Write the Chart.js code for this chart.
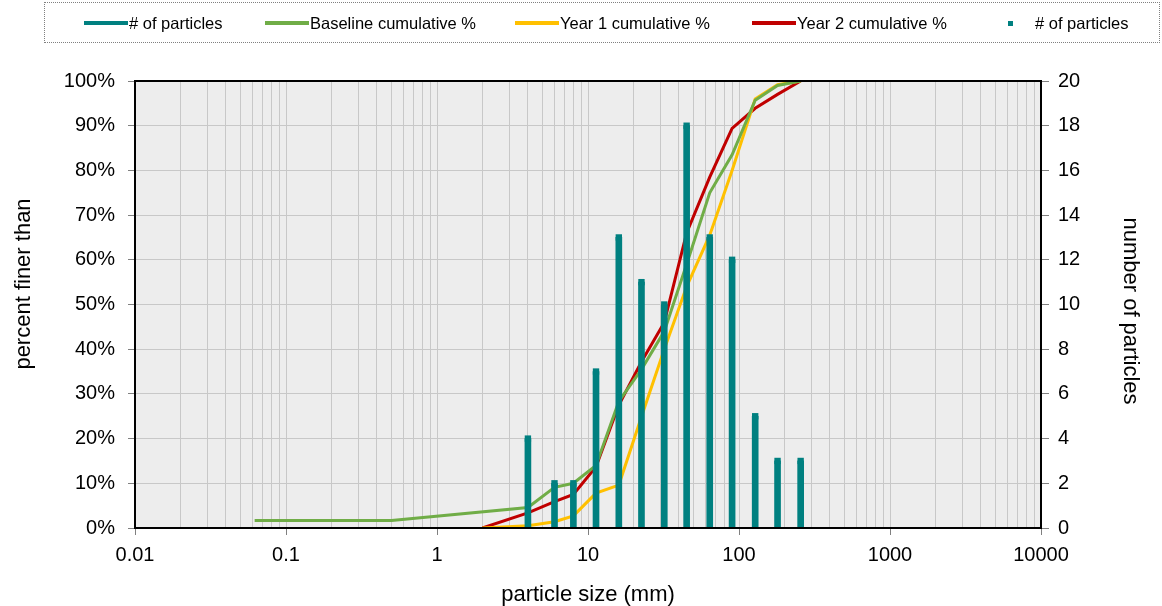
<!DOCTYPE html>
<html lang="en">
<head>
  <meta charset="UTF-8">
  <title>Particle size distribution</title>
  <script src="https://cdn.jsdelivr.net/npm/chart.js"></script>
  <style>
    body { margin: 0; background: #fff; font-family: "Liberation Sans", Arial, sans-serif; }
    #wrap { position: relative; width: 1162px; height: 606px; }
    #chart { position: absolute; left: 0; top: 0; }
    #legendBox { position: absolute; left: 44px; top: 2px; width: 1116px; height: 41px; border: 1px dotted #808080; box-sizing: border-box; }
    .item { position: absolute; top: 13px; height: 20px; display: flex; align-items: center; font-size: 16.5px; color: #000; white-space: nowrap; }
    .swatch { display: inline-block; width: 44px; height: 4px; margin-right: 1px; }
    .dot { display: inline-block; width: 5px; height: 5px; margin: 0 22px 0 0; }
  </style>
</head>
<body>
<div id="wrap">
  <canvas id="chart" width="1162" height="606"></canvas>
  <div id="legendBox"></div>
</div>

<script>
  // bars: number of particles per size class (right axis)
  const barSizes = [4, 6, 8, 11.3, 16, 22.6, 32, 45, 64, 90, 128, 180, 256];
  const barCounts = [4, 2, 2, 7, 13, 11, 10, 18, 13, 12, 5, 3, 3];

  // cumulative curves (left axis, %)
  const baselineSizes = [0.062, 0.5, 4, 6, 8, 11.3, 16, 22.6, 32, 45, 64, 90, 128, 180, 256];
  const baselinePct = [1.7, 1.7, 4.6, 9.1, 10, 14, 28.3, 35.5, 44, 59, 75, 83.5, 95.7, 99, 100];

  const yearSizes = [2, 4, 6, 8, 11.3, 16, 22.6, 32, 45, 64, 90, 128, 180, 256];
  const year1Pct = [0, 0.5, 1.4, 2.7, 7.8, 9.6, 24.9, 40, 54, 65.5, 80, 96, 99.2, 100];
  const year2Pct = [0, 3.4, 5.9, 7.5, 13.7, 27.5, 37.2, 46, 66, 78.5, 89.4, 93.9, 97, 100];

  const decadeLabels = ['0.01', '0.1', '1', '10', '100', '1000', '10000'];

  const seriesNames = ['# of particles', 'Baseline cumulative %', 'Year 1 cumulative %', 'Year 2 cumulative %', '# of particles'];
  const seriesColors = ['#008080', '#70ad47', '#ffc000', '#c00000', '#008080'];

  const pts = (xs, ys) => xs.map((x, i) => ({ x, y: ys[i] }));

  // log tick positions 1..9 per decade
  const xTicks = [];
  for (let e = -2; e <= 3; e++) {
    for (let m = 1; m <= 9; m++) xTicks.push(+(m * Math.pow(10, e)).toPrecision(3));
  }
  xTicks.push(10000);
  const isDecade = v => Math.abs(Math.log10(v) - Math.round(Math.log10(v))) < 1e-9;

  // legend (html)
  const legendLeft = [84, 265, 515, 752, 1008];
  seriesNames.forEach((name, i) => {
    const d = document.createElement('div');
    d.className = 'item';
    d.style.left = legendLeft[i] + 'px';
    const sw = document.createElement('span');
    sw.className = i === 4 ? 'dot' : 'swatch';
    sw.style.background = seriesColors[i];
    d.appendChild(sw);
    d.appendChild(document.createTextNode(name));
    document.getElementById('wrap').appendChild(d);
  });

  const FONT = '"Liberation Sans", Arial, sans-serif';

  const plotBg = {
    id: 'plotBg',
    beforeDraw(chart) {
      const a = chart.chartArea, ctx = chart.ctx;
      ctx.save();
      ctx.fillStyle = '#ededed';
      ctx.fillRect(a.left, a.top, a.right - a.left, a.bottom - a.top);
      ctx.restore();
    },
    afterDraw(chart) {
      const a = chart.chartArea, ctx = chart.ctx;
      ctx.save();
      ctx.strokeStyle = '#000';
      ctx.lineWidth = 2;
      ctx.strokeRect(a.left, a.top, a.right - a.left, a.bottom - a.top);
      // vertical axis titles (excel puts them a bit off-centre)
      ctx.fillStyle = '#000';
      ctx.font = '22px ' + FONT;
      ctx.textAlign = 'center';
      ctx.textBaseline = 'middle';
      ctx.translate(24, 284);
      ctx.rotate(-Math.PI / 2);
      ctx.fillText('percent finer than', 0, 0);
      ctx.restore();
      ctx.save();
      ctx.fillStyle = '#000';
      ctx.font = '22px ' + FONT;
      ctx.textAlign = 'center';
      ctx.textBaseline = 'middle';
      ctx.translate(1130, 311);
      ctx.rotate(Math.PI / 2);
      ctx.fillText('number of particles', 0, 0);
      ctx.restore();
    }
  };

  const font = { family: FONT, size: 20 };
  const titleFont = { family: FONT, size: 22, lineHeight: 1 };

  new Chart(document.getElementById('chart'), {
    type: 'line',
    data: {
      datasets: [
        {
          type: 'bar', label: seriesNames[0], data: pts(barSizes, barCounts), yAxisID: 'y1',
          backgroundColor: seriesColors[0], barThickness: 6, borderWidth: 0, order: 0
        },
        {
          label: seriesNames[4], data: pts(barSizes, barCounts), yAxisID: 'y1', showLine: false,
          pointStyle: 'rect', pointRadius: 4.5, pointBackgroundColor: seriesColors[4],
          pointBorderWidth: 0, order: 0
        },
        {
          label: seriesNames[1], data: pts(baselineSizes, baselinePct), yAxisID: 'y',
          borderColor: seriesColors[1], borderWidth: 3, pointRadius: 0, tension: 0, order: 1
        },
        {
          label: seriesNames[2], data: pts(yearSizes, year1Pct), yAxisID: 'y',
          borderColor: seriesColors[2], borderWidth: 3, pointRadius: 0, tension: 0, order: 1
        },
        {
          label: seriesNames[3], data: pts(yearSizes, year2Pct), yAxisID: 'y',
          borderColor: seriesColors[3], borderWidth: 3, pointRadius: 0, tension: 0, order: 1
        }
      ]
    },
    options: {
      responsive: false,
      animation: false,
      devicePixelRatio: 1,
      layout: { padding: { top: 81, left: 0, right: 0, bottom: 0 } },
      plugins: { legend: { display: false }, tooltip: { enabled: false } },
      scales: {
        x: {
          type: 'logarithmic', min: 0.01, max: 10000, offset: false,
          afterBuildTicks: s => { s.ticks = xTicks.map(v => ({ value: v })); },
          afterFit: s => { s.height = 78; },
          ticks: {
            autoSkip: false, maxRotation: 0, padding: 8, color: '#000', font,
            callback: v => isDecade(v) ? decadeLabels[Math.round(Math.log10(v)) + 2] : ''
          },
          grid: {
            offset: false, color: '#c8c8c8', tickLength: 7,
            tickColor: c => (c.tick && isDecade(c.tick.value)) ? '#808080' : 'rgba(0,0,0,0)'
          },
          border: { display: false },
          title: { display: true, text: 'particle size (mm)', color: '#000', font: titleFont, padding: { top: 0, bottom: 0 } }
        },
        y: {
          position: 'left', min: 0, max: 100,
          afterFit: s => { s.width = 135; },
          ticks: { stepSize: 10, padding: 13, color: '#000', font, callback: v => v + '%' },
          grid: { color: '#c8c8c8', tickColor: '#808080', tickLength: 7 },
          border: { display: false }
        },
        y1: {
          position: 'right', min: 0, max: 20,
          afterFit: s => { s.width = 121; },
          ticks: { stepSize: 2, padding: 9, color: '#000', font },
          grid: { drawOnChartArea: false, tickColor: '#808080', tickLength: 8 },
          border: { display: false }
        }
      }
    },
    plugins: [plotBg]
  });
</script>
</body>
</html>
